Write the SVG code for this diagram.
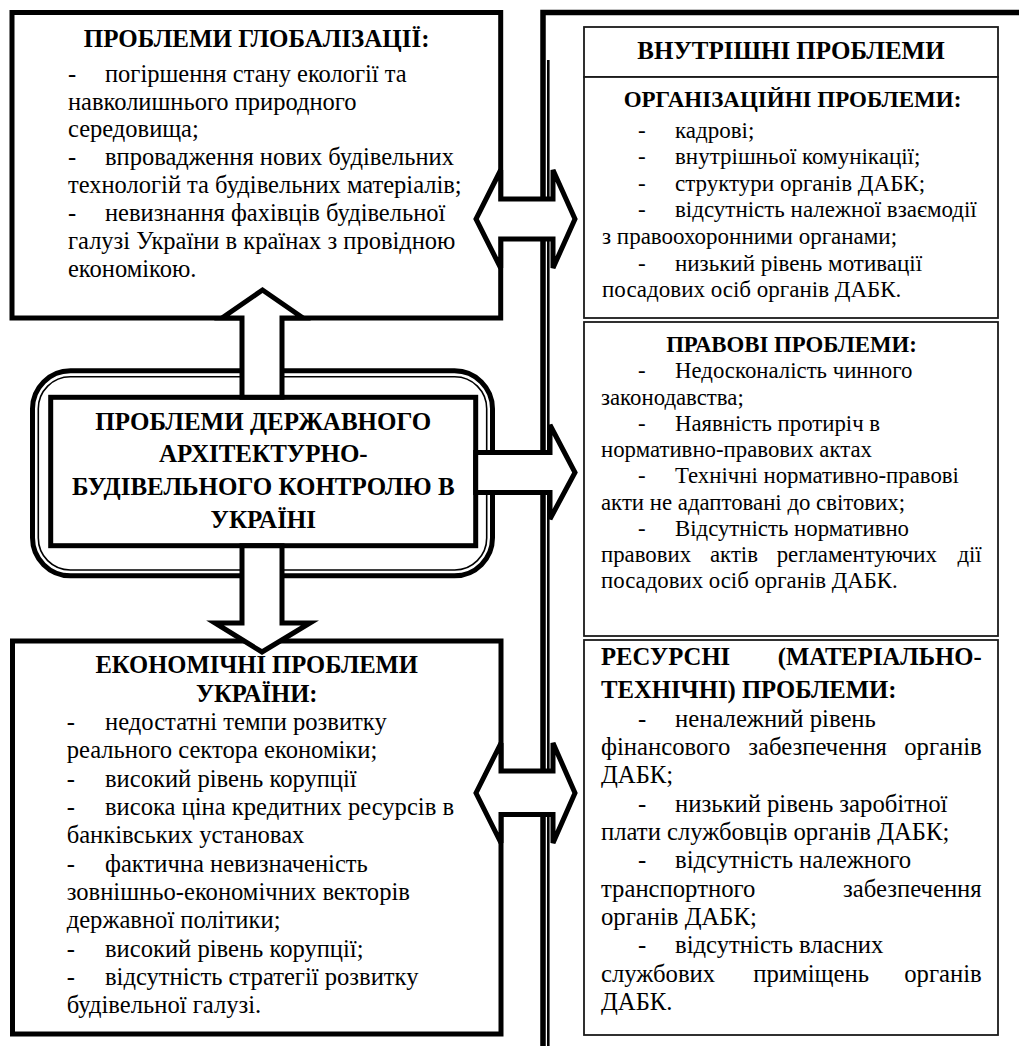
<svg xmlns="http://www.w3.org/2000/svg" width="1019" height="1046" viewBox="0 0 1019 1046">
<style>
text{font-family:"Liberation Serif","Times New Roman",serif;fill:#000}
.b{font-weight:bold}
.c{text-anchor:middle}
.e{text-anchor:end}
.thick{fill:#fff;stroke:#000;stroke-width:5;stroke-linejoin:miter}
.thin{fill:#fff;stroke:#1a1a1a;stroke-width:1.8}
.line{fill:none;stroke:#000}
.l1{font-size:24.5px}
.t1{font-size:25px}
.l2{font-size:24.6px}
.ct{font-size:25px}
.o{font-size:23px}
.p{font-size:22.8px}
.r{font-size:24.7px}
</style>
<rect width="1019" height="1046" fill="#fff"/>

<g id="frame">
<path class="line" d="M543 1046 V12.5 H1019" stroke-width="5.5"/>
<path class="line" d="M548.3 1046 V60" stroke-width="2.6"/>
</g>

<g id="node-global">
<rect class="thick" x="12" y="12.5" width="488.7" height="305.5"/>
<text class="t1 b c" x="256.7" y="46.7">ПРОБЛЕМИ ГЛОБАЛІЗАЦІЇ:</text>
<g class="l1">
<text x="68" y="81.7">-</text><text x="105" y="81.7">погіршення стану екології та</text>
<text x="68" y="109.6">навколишнього природного</text>
<text x="68" y="137.4">середовища;</text>
<text x="68" y="165.3">-</text><text x="105" y="165.3">впровадження нових будівельних</text>
<text x="68" y="193.1">технологій та будівельних матеріалів;</text>
<text x="68" y="221">-</text><text x="105" y="221">невизнання фахівців будівельної</text>
<text x="68" y="248.9">галузі України в країнах з провідною</text>
<text x="68" y="276.7">економікою.</text>
</g>
</g>

<g id="node-econ">
<rect class="thick" x="12.5" y="641" width="488.5" height="393"/>
<text class="l2 b c" x="256.7" y="673.3">ЕКОНОМІЧНІ ПРОБЛЕМИ</text>
<text class="l2 b c" x="256.7" y="701.7">УКРАЇНИ:</text>
<g class="l2">
<text x="66.7" y="730">-</text><text x="105" y="730">недостатні темпи розвитку</text>
<text x="66.7" y="758.3">реального сектора економіки;</text>
<text x="66.7" y="786.7">-</text><text x="105" y="786.7">високий рівень корупції</text>
<text x="66.7" y="815">-</text><text x="105" y="815">висока ціна кредитних ресурсів в</text>
<text x="66.7" y="843.3">банківських установах</text>
<text x="66.7" y="871.7">-</text><text x="105" y="871.7">фактична невизначеність</text>
<text x="66.7" y="900">зовнішньо-економічних векторів</text>
<text x="66.7" y="928.3">державної політики;</text>
<text x="66.7" y="956.7">-</text><text x="105" y="956.7">високий рівень корупції;</text>
<text x="66.7" y="985">-</text><text x="105" y="985">відсутність стратегії розвитку</text>
<text x="66.7" y="1013.3">будівельної галузі.</text>
</g>
</g>

<g id="node-center">
<rect class="thick" x="32.5" y="370.8" width="460" height="205" rx="38" ry="38"/>
<rect x="38.3" y="376.7" width="448.4" height="193.3" rx="32" ry="32" fill="none" stroke="#000" stroke-width="1.6"/>
<rect class="thick" x="50.7" y="397.3" width="425" height="148.4"/>
</g>

<g id="node-inner-header">
<rect class="thin" x="584" y="27" width="414" height="50"/>
<text class="ct b c" x="791" y="59">ВНУТРІШНІ ПРОБЛЕМИ</text>
</g>

<g id="node-org">
<rect class="thin" x="584" y="77" width="414" height="241"/>
<text class="o b c" x="792.5" y="107">ОРГАНІЗАЦІЙНІ ПРОБЛЕМИ:</text>
<g class="o">
<text x="638" y="137.5">-</text><text x="675" y="137.5">кадрові;</text>
<text x="638" y="164.1">-</text><text x="675" y="164.1">внутрішньої комунікації;</text>
<text x="638" y="190.7">-</text><text x="675" y="190.7">структури органів ДАБК;</text>
<text x="638" y="217.3">-</text><text x="675" y="217.3">відсутність належної взаємодії</text>
<text x="602" y="243.9">з правоохоронними органами;</text>
<text x="638" y="270.5">-</text><text x="675" y="270.5">низький рівень мотивації</text>
<text x="602" y="297.1">посадових осіб органів ДАБК.</text>
</g>
</g>

<g id="node-legal">
<rect class="thin" x="584" y="322" width="414" height="314"/>
<text class="p b c" x="791.5" y="351.7">ПРАВОВІ ПРОБЛЕМИ:</text>
<g class="p">
<text x="638" y="378.3">-</text><text x="675" y="378.3">Недосконалість чинного</text>
<text x="601" y="404.6">законодавства;</text>
<text x="638" y="430.8">-</text><text x="675" y="430.8">Наявність протиріч в</text>
<text x="601" y="457.1">нормативно-правових актах</text>
<text x="638" y="483.3">-</text><text x="675" y="483.3">Технічні нормативно-правові</text>
<text x="601" y="509.6">акти не адаптовані до світових;</text>
<text x="638" y="535.8">-</text><text x="675" y="535.8">Відсутність нормативно</text>
<text x="601" y="562.1">правових</text><text x="710" y="562.1">актів</text><text x="776.7" y="562.1">регламентуючих</text><text class="e" x="981.7" y="562.1">дії</text>
<text x="601" y="588.3">посадових осіб органів ДАБК.</text>
</g>
</g>

<g id="node-resource">
<rect class="thin" x="584" y="640" width="414" height="395"/>
<g class="r">
<text class="b" x="601" y="665">РЕСУРСНІ</text><text class="b e" x="981.7" y="665">(МАТЕРІАЛЬНО-</text>
<text class="b" x="601" y="698.3">ТЕХНІЧНІ) ПРОБЛЕМИ:</text>
<text x="638" y="726.7">-</text><text x="675" y="726.7">неналежний рівень</text>
<text x="601" y="755">фінансового</text><text x="748.3" y="755">забезпечення</text><text class="e" x="981.7" y="755">органів</text>
<text x="601" y="783.3">ДАБК;</text>
<text x="638" y="811.7">-</text><text x="675" y="811.7">низький рівень заробітної</text>
<text x="601" y="840">плати службовців органів ДАБК;</text>
<text x="638" y="868.3">-</text><text x="675" y="868.3">відсутність належного</text>
<text x="601" y="896.7">транспортного</text><text class="e" x="981.7" y="896.7">забезпечення</text>
<text x="601" y="925">органів ДАБК;</text>
<text x="638" y="953.3">-</text><text x="675" y="953.3">відсутність власних</text>
<text x="601" y="981.7">службових</text><text x="753.3" y="981.7">приміщень</text><text class="e" x="981.7" y="981.7">органів</text>
<text x="601" y="1010">ДАБК.</text>
</g>
</g>

<g id="connectors">
<polygon class="thick" points="242,397.3 242,318 222,318 262.5,290 303,318 282,318 282,397.3"/>
<polygon class="thick" points="242,545.7 242,623 215,623 262,652 310,623 282,623 282,545.7"/>
<polygon class="thick" points="475.7,452.5 550,452.5 550,425 575,472.5 550,519 550,492.5 475.7,492.5"/>
<polygon class="thick" points="500.7,199 500.7,170 476,219 500.7,268 500.7,239 553,239 553,268 575,219 553,170 553,199"/>
<polygon class="thick" points="501,771 501,743 476,793 501,843 501,814.5 553,814.5 553,843 575,793 553,743 553,771"/>
</g>

<g id="center-text">
<text class="ct b c" x="263.3" y="430">ПРОБЛЕМИ ДЕРЖАВНОГО</text>
<text class="ct b c" x="263.3" y="461.7">АРХІТЕКТУРНО-</text>
<text class="ct b c" x="263.3" y="495">БУДІВЕЛЬНОГО КОНТРОЛЮ В</text>
<text class="ct b c" x="263.3" y="528.3">УКРАЇНІ</text>
</g>
</svg>
